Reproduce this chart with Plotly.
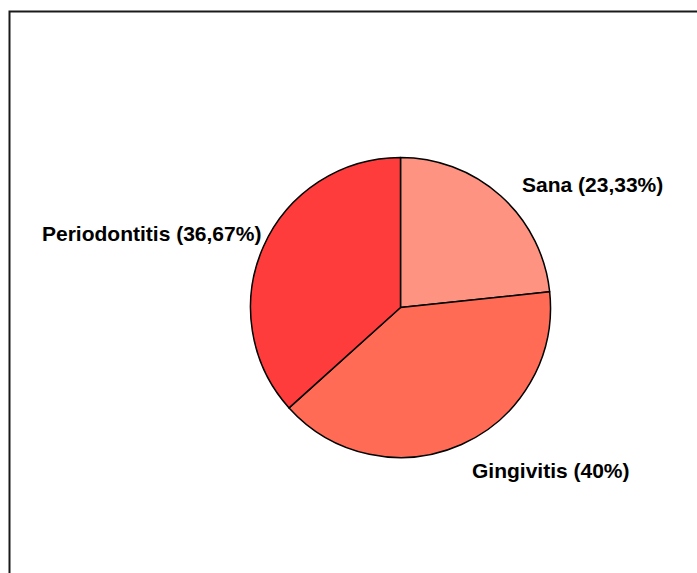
import plotly.graph_objects as go

# Diagnosis categories and their shares (%)
categories = ["Sana", "Gingivitis", "Periodontitis"]
shares = [23.33, 40.0, 36.67]
slice_colors = ["#FF9382", "#FF6B55", "#FF3C3C"]

W, H = 697, 573
cx, cy, r = 400.5, 307.5, 150  # pie centre / radius in pixels

def fmt(v):
    s = f"{v:.2f}".rstrip("0").rstrip(".")
    return s.replace(".", ",")

fig = go.Figure(go.Pie(
    labels=categories,
    values=shares,
    sort=False,
    direction="clockwise",
    rotation=0,
    marker=dict(colors=slice_colors, line=dict(color="black", width=1.5)),
    textinfo="none",
    hoverinfo="label+percent",
    showlegend=False,
    domain=dict(x=[(cx - r) / W, (cx + r) / W],
                y=[(H - cy - r) / H, (H - cy + r) / H]),
))

# label anchor points (pixels) for each category
label_pos = {"Sana": (592, 184), "Gingivitis": (551, 470), "Periodontitis": (151, 233)}
for name, val in zip(categories, shares):
    px, py = label_pos[name]
    fig.add_annotation(
        x=px / W, y=1 - py / H, xref="paper", yref="paper",
        text=f"<b>{name} ({fmt(val)}%)</b>", showarrow=False,
        font=dict(family="Liberation Sans, Arial", size=21, color="black"),
        xanchor="center", yanchor="middle",
    )

# outer frame
fig.add_shape(type="rect", xref="paper", yref="paper",
              x0=9.5 / W, x1=1.05, y0=-0.05, y1=1 - 11.5 / H,
              line=dict(color="#1a1a1a", width=2), fillcolor="rgba(0,0,0,0)")

fig.update_layout(
    width=W, height=H,
    margin=dict(l=0, r=0, t=0, b=0),
    paper_bgcolor="white", plot_bgcolor="white",
)
fig.write_html("out.html")
